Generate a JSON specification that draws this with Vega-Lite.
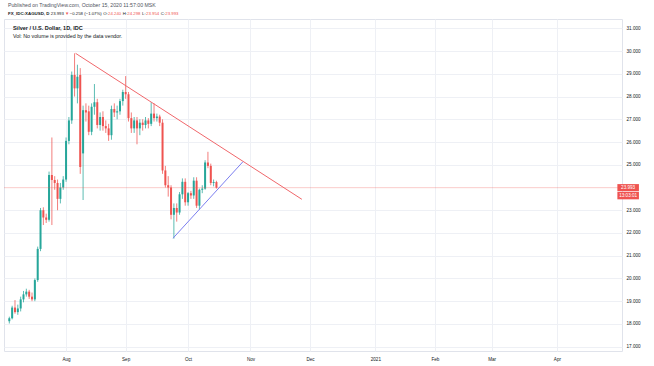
{
  "$schema": "https://vega.github.io/schema/vega-lite/v6.json",
  "width": 618,
  "height": 332,
  "autosize": {"type": "none"},
  "padding": {"left": 4, "top": 19, "right": 32, "bottom": 15},
  "background": "white",
  "config": {
    "view": {"stroke": "#e0e3eb", "strokeWidth": 1},
    "font": "Liberation Sans",
    "text": {"font": "Liberation Sans"},
    "axis": {"labelOverlap": false, "labelFlush": false}
  },
  "datasets": {
    "candles": [
      {"t": 3, "o": 18.12, "h": 18.32, "l": 18.02, "c": 18.25},
      {"t": 4, "o": 18.25, "h": 18.8, "l": 18.2, "c": 18.72},
      {"t": 5, "o": 18.72, "h": 19.05, "l": 18.45, "c": 18.52},
      {"t": 6, "o": 18.52, "h": 18.85, "l": 18.4, "c": 18.68},
      {"t": 7, "o": 18.68, "h": 19.2, "l": 18.55, "c": 19.08},
      {"t": 8, "o": 19.08, "h": 19.45, "l": 18.95, "c": 19.3},
      {"t": 9, "o": 19.3, "h": 19.55, "l": 19.2, "c": 19.42},
      {"t": 10, "o": 19.42, "h": 19.5, "l": 19.1, "c": 19.2},
      {"t": 11, "o": 19.2, "h": 19.38, "l": 19.0, "c": 19.08},
      {"t": 12, "o": 19.08, "h": 20.0, "l": 19.0, "c": 19.93},
      {"t": 13, "o": 19.93, "h": 21.4, "l": 19.85, "c": 21.3},
      {"t": 14, "o": 21.3, "h": 23.1, "l": 21.2, "c": 23.0},
      {"t": 15, "o": 23.0, "h": 23.13, "l": 22.35, "c": 22.68},
      {"t": 16, "o": 22.68, "h": 22.85, "l": 22.44, "c": 22.58},
      {"t": 17, "o": 22.58, "h": 24.7, "l": 22.5, "c": 24.55},
      {"t": 18, "o": 24.55, "h": 26.2, "l": 22.35, "c": 24.33},
      {"t": 19, "o": 24.33, "h": 24.5, "l": 23.9, "c": 24.2},
      {"t": 20, "o": 24.2, "h": 24.35, "l": 23.0, "c": 23.5},
      {"t": 21, "o": 23.5, "h": 24.2, "l": 23.3, "c": 24.0},
      {"t": 22, "o": 24.0, "h": 24.5, "l": 23.9, "c": 24.35},
      {"t": 23, "o": 24.35, "h": 26.2, "l": 24.25, "c": 26.05},
      {"t": 24, "o": 26.05, "h": 27.1, "l": 25.9, "c": 26.95},
      {"t": 25, "o": 26.95, "h": 29.1, "l": 26.8, "c": 28.95},
      {"t": 26, "o": 28.95, "h": 29.9, "l": 28.0, "c": 28.36},
      {"t": 27, "o": 28.36, "h": 29.4, "l": 27.7, "c": 28.87},
      {"t": 28, "o": 28.95, "h": 29.25, "l": 24.6, "c": 24.9},
      {"t": 29, "o": 25.5, "h": 27.6, "l": 23.45, "c": 27.4},
      {"t": 30, "o": 27.4, "h": 27.7, "l": 26.9, "c": 27.3},
      {"t": 31, "o": 27.35, "h": 27.6, "l": 26.3, "c": 26.45},
      {"t": 32, "o": 26.45, "h": 27.7, "l": 26.3, "c": 27.55},
      {"t": 33, "o": 27.55, "h": 28.55, "l": 27.2, "c": 27.75},
      {"t": 34, "o": 27.75, "h": 27.9, "l": 26.6, "c": 26.75},
      {"t": 35, "o": 26.75, "h": 27.3, "l": 26.5, "c": 27.1},
      {"t": 36, "o": 27.1, "h": 27.35, "l": 26.5, "c": 26.7},
      {"t": 37, "o": 26.7, "h": 26.95, "l": 26.4, "c": 26.6},
      {"t": 38, "o": 26.6, "h": 26.8, "l": 26.05, "c": 26.3},
      {"t": 39, "o": 26.3, "h": 27.6, "l": 26.1, "c": 27.45},
      {"t": 40, "o": 27.45, "h": 27.7, "l": 27.1, "c": 27.3},
      {"t": 41, "o": 27.3, "h": 27.6, "l": 27.0, "c": 27.35},
      {"t": 42, "o": 27.35, "h": 27.9, "l": 27.2, "c": 27.8},
      {"t": 43, "o": 27.8, "h": 28.3, "l": 27.6, "c": 28.2},
      {"t": 44, "o": 28.2, "h": 28.9, "l": 27.9, "c": 28.1},
      {"t": 45, "o": 28.1, "h": 28.2, "l": 26.9, "c": 27.05},
      {"t": 46, "o": 27.05, "h": 27.3, "l": 26.4, "c": 26.6},
      {"t": 47, "o": 26.6, "h": 27.1, "l": 26.4, "c": 26.95},
      {"t": 48, "o": 26.95, "h": 27.1, "l": 25.9, "c": 26.6},
      {"t": 49, "o": 26.6, "h": 27.0, "l": 26.3, "c": 26.85},
      {"t": 50, "o": 26.85, "h": 27.0, "l": 26.5, "c": 26.75},
      {"t": 51, "o": 26.75, "h": 27.1, "l": 26.6, "c": 26.95},
      {"t": 52, "o": 26.95, "h": 27.05, "l": 26.6, "c": 26.8},
      {"t": 53, "o": 26.8, "h": 27.75, "l": 26.7, "c": 27.25},
      {"t": 54, "o": 27.25, "h": 27.7, "l": 26.9, "c": 27.05},
      {"t": 55, "o": 27.05, "h": 27.25, "l": 26.9, "c": 27.12},
      {"t": 56, "o": 27.12, "h": 27.2, "l": 26.7, "c": 26.85},
      {"t": 57, "o": 26.85, "h": 27.0, "l": 24.6, "c": 24.75},
      {"t": 58, "o": 24.75, "h": 24.95, "l": 24.0, "c": 24.1},
      {"t": 59, "o": 24.1, "h": 24.5, "l": 23.6, "c": 24.0},
      {"t": 60, "o": 24.0, "h": 24.1, "l": 22.6, "c": 22.8},
      {"t": 61, "o": 22.8, "h": 23.3, "l": 21.75, "c": 23.1},
      {"t": 62, "o": 23.1, "h": 23.3, "l": 22.5, "c": 22.9},
      {"t": 63, "o": 22.9, "h": 23.8, "l": 22.8, "c": 23.7},
      {"t": 64, "o": 23.7, "h": 24.4, "l": 23.5, "c": 24.25},
      {"t": 65, "o": 24.25, "h": 24.4, "l": 23.2, "c": 23.35},
      {"t": 66, "o": 23.35, "h": 23.8, "l": 23.2, "c": 23.75},
      {"t": 67, "o": 23.75, "h": 23.85, "l": 23.5, "c": 23.65},
      {"t": 68, "o": 23.65, "h": 24.45, "l": 23.5, "c": 24.3},
      {"t": 69, "o": 24.3, "h": 24.45, "l": 23.1, "c": 23.2},
      {"t": 70, "o": 23.2, "h": 23.95, "l": 23.03, "c": 23.9},
      {"t": 71, "o": 23.9, "h": 24.1, "l": 23.75, "c": 23.95},
      {"t": 72, "o": 23.95, "h": 25.2, "l": 23.9, "c": 25.1},
      {"t": 73, "o": 25.1, "h": 25.57, "l": 24.85, "c": 24.95},
      {"t": 74, "o": 24.95, "h": 25.05, "l": 24.1, "c": 24.2},
      {"t": 75, "o": 24.2, "h": 24.35, "l": 24.05, "c": 24.24},
      {"t": 76, "o": 24.24, "h": 24.298, "l": 23.954, "c": 23.993}
    ],
    "trend": [
      {"line": "resistance", "t": 26.36, "p": 29.9},
      {"line": "resistance", "t": 106.11, "p": 23.48},
      {"line": "support", "t": 60.69, "p": 21.77},
      {"line": "support", "t": 85.31, "p": 25.13}
    ]
  },
  "layer": [
    {
      "data": {"name": "candles"},
      "mark": {"type": "rule", "strokeWidth": 1, "opacity": 0.75},
      "encoding": {
        "x": {
          "field": "t", "type": "quantitative",
          "scale": {"domain": [2.889, 217.17], "nice": false, "zero": false},
          "axis": {
            "orient": "bottom", "title": null, "domain": false, "ticks": false,
            "values": [23, 44, 66, 88, 109, 132, 153, 173, 196],
            "tickCount": 40,
            "labelExpr": "datum.value == 23 ? 'Aug' : datum.value == 44 ? 'Sep' : datum.value == 66 ? 'Oct' : datum.value == 88 ? 'Nov' : datum.value == 109 ? 'Dec' : datum.value == 132 ? '2021' : datum.value == 153 ? 'Feb' : datum.value == 173 ? 'Mar' : 'Apr'",
            "labelFontSize": 4.6, "labelColor": "#131722", "labelPadding": 5,
            "labelOverlap": false,
            "grid": true, "gridColor": "#eef0f5", "gridWidth": 1,
            "labelFont": "Liberation Sans"
          }
        },
        "y": {
          "field": "l", "type": "quantitative",
          "scale": {"domain": [16.81, 31.41], "nice": false, "zero": false},
          "axis": {
            "orient": "right", "title": null, "domain": false, "ticks": false,
            "values": [17, 18, 19, 20, 21, 22, 23, 25, 26, 27, 28, 29, 30, 31],
            "tickCount": 40,
            "format": ".3f", "labelFontSize": 4.6, "labelColor": "#131722",
            "labelPadding": 4, "labelAlign": "left", "labelBaseline": "middle",
            "labelOverlap": false, "labelFlush": false,
            "grid": true, "gridColor": "#eef0f5", "gridWidth": 1,
            "labelFont": "Liberation Sans"
          }
        },
        "y2": {"field": "h"},
        "color": {
          "condition": {"test": "datum.c >= datum.o", "value": "#26a69a"},
          "value": "#ef5350"
        }
      }
    },
    {
      "data": {"name": "candles"},
      "mark": {"type": "bar", "size": 2},
      "encoding": {
        "x": {"field": "t", "type": "quantitative"},
        "y": {"field": "o", "type": "quantitative"},
        "y2": {"field": "c"},
        "color": {
          "condition": {"test": "datum.c >= datum.o", "value": "#26a69a"},
          "value": "#ef5350"
        }
      }
    },
    {
      "data": {"values": [{"price": 23.993}]},
      "mark": {"type": "rule", "color": "#ef5350", "opacity": 0.3, "strokeWidth": 1},
      "encoding": {"y": {"field": "price", "type": "quantitative"}}
    },
    {
      "data": {"name": "trend"},
      "mark": {"type": "line", "strokeWidth": 1},
      "encoding": {
        "x": {"field": "t", "type": "quantitative"},
        "y": {"field": "p", "type": "quantitative"},
        "color": {
          "field": "line", "type": "nominal",
          "scale": {"domain": ["resistance", "support"], "range": ["#f0676b", "#7b7ef0"]},
          "legend": null
        }
      }
    },
    {
      "data": {"values": [{}]},
      "mark": {"type": "rect", "color": "#ef5350"},
      "encoding": {
        "x": {"datum": 217.3}, "x2": {"datum": 224.9},
        "y": {"datum": 24.15}, "y2": {"datum": 23.84}
      }
    },
    {
      "data": {"values": [{}]},
      "mark": {"type": "rect", "color": "#ef5350"},
      "encoding": {
        "x": {"datum": 217.3}, "x2": {"datum": 224.9},
        "y": {"datum": 23.81}, "y2": {"datum": 23.48}
      }
    },
    {
      "data": {"values": [{}]},
      "mark": {"type": "text", "text": "23.993", "color": "white", "fontSize": 4.6, "align": "center", "baseline": "middle"},
      "encoding": {"x": {"datum": 221.1}, "y": {"datum": 23.995}}
    },
    {
      "data": {"values": [{}]},
      "mark": {"type": "text", "text": "13:03:01", "color": "white", "fontSize": 4.6, "align": "center", "baseline": "middle"},
      "encoding": {"x": {"datum": 221.1}, "y": {"datum": 23.645}}
    },
    {
      "data": {"values": [{}]},
      "mark": {"type": "text", "text": "Published on TradingView.com, October 15, 2020 11:57:00 MSK", "color": "#50535e", "fontSize": 5.2, "align": "left", "baseline": "middle"},
      "encoding": {"x": {"datum": 2.54}, "y": {"datum": 32.03}}
    },
    {
      "data": {"values": [{}]},
      "mark": {"type": "text", "text": "FX_IDC:XAGUSD, D", "color": "#131722", "fontWeight": "bold", "fontSize": 4.4, "align": "left", "baseline": "middle"},
      "encoding": {"x": {"datum": 2.54}, "y": {"datum": 31.63}}
    },
    {
      "data": {"values": [{}]},
      "mark": {"type": "text", "text": "23.993", "color": "#131722", "fontSize": 4.3, "align": "left", "baseline": "middle"},
      "encoding": {"x": {"datum": 17.6}, "y": {"datum": 31.63}}
    },
    {
      "data": {"values": [{}]},
      "mark": {"type": "text", "text": "▼", "color": "#ef5350", "fontSize": 4.3, "align": "left", "baseline": "middle"},
      "encoding": {"x": {"datum": 22.6}, "y": {"datum": 31.63}}
    },
    {
      "data": {"values": [{}]},
      "mark": {"type": "text", "text": "−0.258 (−1.07%)", "color": "#131722", "fontSize": 4.3, "align": "left", "baseline": "middle"},
      "encoding": {"x": {"datum": 24.3}, "y": {"datum": 31.63}}
    },
    {
      "data": {"values": [{}]},
      "mark": {"type": "text", "text": "O:", "color": "#131722", "fontSize": 4.3, "align": "left", "baseline": "middle"},
      "encoding": {"x": {"datum": 36.1}, "y": {"datum": 31.63}}
    },
    {
      "data": {"values": [{}]},
      "mark": {"type": "text", "text": "24.240", "color": "#ef5350", "fontSize": 4.3, "align": "left", "baseline": "middle"},
      "encoding": {"x": {"datum": 37.8}, "y": {"datum": 31.63}}
    },
    {
      "data": {"values": [{}]},
      "mark": {"type": "text", "text": "H:", "color": "#131722", "fontSize": 4.3, "align": "left", "baseline": "middle"},
      "encoding": {"x": {"datum": 43.0}, "y": {"datum": 31.63}}
    },
    {
      "data": {"values": [{}]},
      "mark": {"type": "text", "text": "24.298", "color": "#ef5350", "fontSize": 4.3, "align": "left", "baseline": "middle"},
      "encoding": {"x": {"datum": 44.6}, "y": {"datum": 31.63}}
    },
    {
      "data": {"values": [{}]},
      "mark": {"type": "text", "text": "L:", "color": "#131722", "fontSize": 4.3, "align": "left", "baseline": "middle"},
      "encoding": {"x": {"datum": 49.8}, "y": {"datum": 31.63}}
    },
    {
      "data": {"values": [{}]},
      "mark": {"type": "text", "text": "23.954", "color": "#ef5350", "fontSize": 4.3, "align": "left", "baseline": "middle"},
      "encoding": {"x": {"datum": 51.2}, "y": {"datum": 31.63}}
    },
    {
      "data": {"values": [{}]},
      "mark": {"type": "text", "text": "C:", "color": "#131722", "fontSize": 4.3, "align": "left", "baseline": "middle"},
      "encoding": {"x": {"datum": 56.4}, "y": {"datum": 31.63}}
    },
    {
      "data": {"values": [{}]},
      "mark": {"type": "text", "text": "23.993", "color": "#ef5350", "fontSize": 4.3, "align": "left", "baseline": "middle"},
      "encoding": {"x": {"datum": 58.0}, "y": {"datum": 31.63}}
    },
    {
      "data": {"values": [{}]},
      "mark": {"type": "text", "text": "Silver / U.S. Dollar, 1D, IDC", "color": "#131722", "fontWeight": "bold", "fontSize": 5.5, "align": "left", "baseline": "middle"},
      "encoding": {"x": {"datum": 4.28}, "y": {"datum": 31.02}}
    },
    {
      "data": {"values": [{}]},
      "mark": {"type": "text", "text": "Vol: No volume is provided by the data vendor.", "color": "#131722", "fontSize": 5.3, "align": "left", "baseline": "middle"},
      "encoding": {"x": {"datum": 4.28}, "y": {"datum": 30.66}}
    }
  ]
}
